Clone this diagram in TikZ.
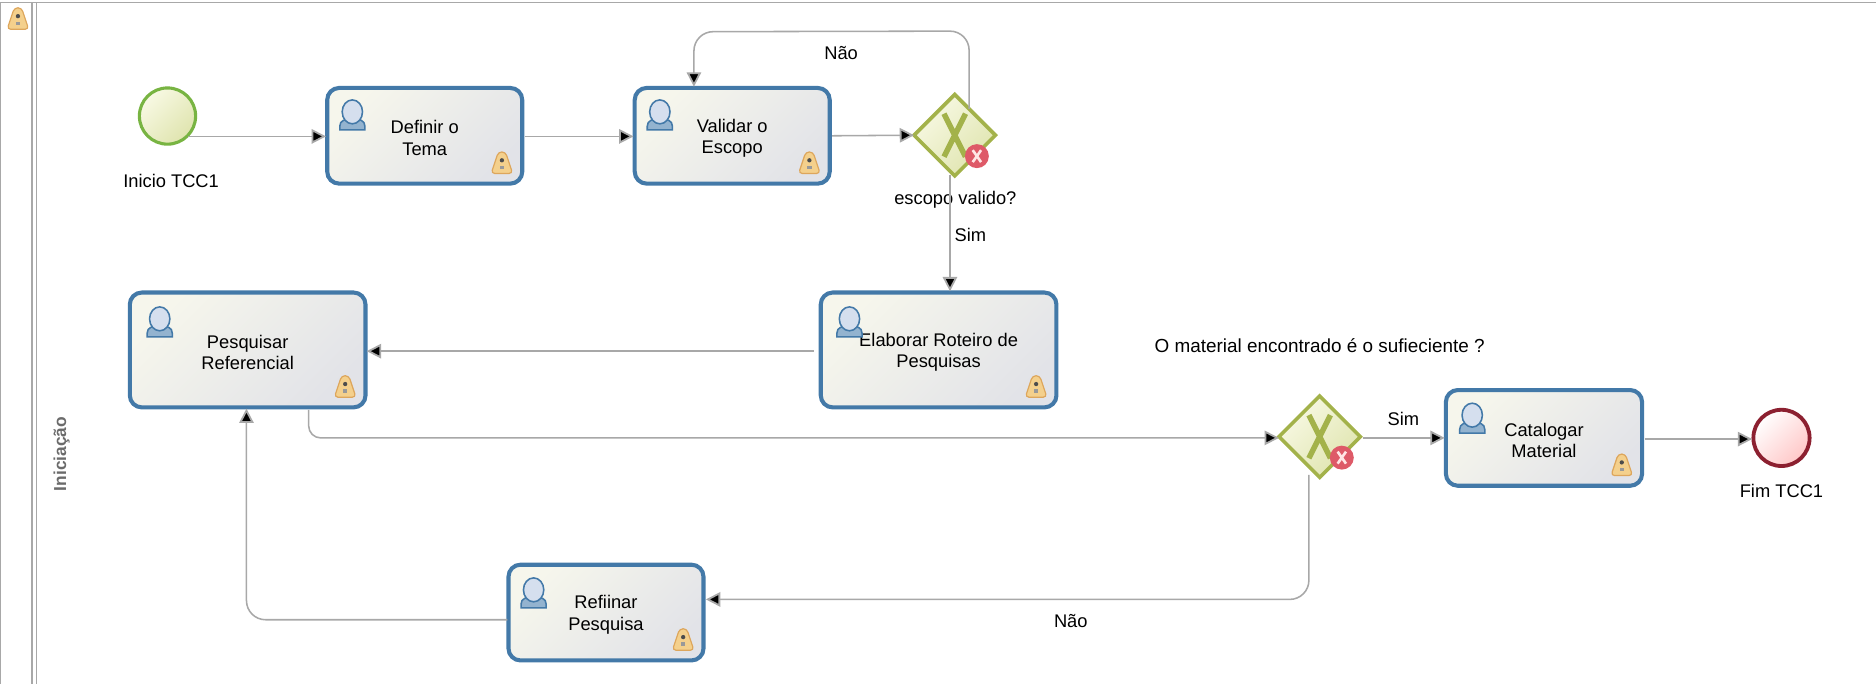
\documentclass[tikz,border=0pt]{standalone}
\usepackage{fontspec}
\setmainfont{Liberation Sans}
\usetikzlibrary{arrows.meta,calc,shapes.geometric}
\newcommand{\tskstrut}{\rule{0pt}{15pt}}
\definecolor{flowgray}{HTML}{A8A8A8}
\definecolor{taskblue}{HTML}{4379A8}
\definecolor{gwgreen}{HTML}{A3B24A}
\definecolor{startgreen}{HTML}{78B442}
\definecolor{endred}{HTML}{8C2030}
\definecolor{taskA}{HTML}{F6F6EC}
\definecolor{taskB}{HTML}{E2E3E8}
\definecolor{gwA}{HTML}{F8F9E4}
\definecolor{gwB}{HTML}{DFE4AE}
\definecolor{warnfill}{HTML}{F4D08C}
\definecolor{warnline}{HTML}{DDA65C}
\definecolor{userhead}{HTML}{D5DFEE}
\definecolor{userbody}{HTML}{93B3CF}
\definecolor{errfill}{HTML}{DE5A68}
\tikzset{
  x=1pt,y=-1pt,
  every node/.style={font=\fontsize{15.3}{18}\selectfont,text=black,inner sep=0pt,outer sep=0pt},
  taskbox/.style={draw=taskblue,line width=3.4pt,rounded corners=10pt,top color=taskA,bottom color=taskB,shading angle=45,minimum width=#1,align=center},
  gateway/.style={diamond,draw=gwgreen,line width=3pt,aspect=1,minimum width=68pt,minimum height=68pt,top color=gwA,bottom color=gwB,shading angle=45},
  startev/.style={circle,draw=startgreen,line width=2.6pt,minimum size=47pt,top color=gwA,bottom color=gwB,shading angle=45},
  endev/.style={circle,draw=endred,line width=3.2pt,minimum size=47pt,top color=white,bottom color=red!22!white,shading angle=45},
  flow/.style={draw=flowgray,line width=1.3pt,rounded corners=16pt,-{Triangle[fill=black,length=12pt,width=12pt,line width=1.5pt]}},
  lanebar/.style={draw=flowgray,line width=1.4pt},
  lbl/.style={align=center},
  pics/warn/.style={code={
    \fill[warnfill,draw=warnline,line width=1pt,line join=round,rounded corners=3pt] (-9,8.5) -- (-3,-9.5) -- (3,-9.5) -- (9,8.5) -- cycle;
    \fill[black!70] (0,-2.5) circle (1.8);
    \fill[black!40] (-1.8,2) rectangle (1.8,5);
  }},
  pics/usericon/.style={code={
    \fill[userbody,draw=taskblue,line width=1.3pt] (-10.5,15) -- (-10.5,12) .. controls (-10.5,7) and (-6,6) .. (0,6) .. controls (6,6) and (10.5,7) .. (10.5,12) -- (10.5,15) -- cycle;
    \fill[userhead,draw=taskblue,line width=1.3pt] (0,0) ellipse (8.5 and 10);
  }},
  pics/errmark/.style={code={
    \fill[errfill] (0,0) circle (10);
    \draw[white!90!red,line width=2.2pt] (-3.5,-5) -- (3.5,5) (3.5,-5) -- (-3.5,5);
  }},
  pics/xmark/.style={code={
    \draw[gwgreen,line width=4.6pt] (-9,-18) -- (9,18) (9,-18) -- (-9,18);
  }}
}
\begin{document}
\begin{tikzpicture}
\useasboundingbox (0,0) rectangle (1568,571.7);
% lane
\coordinate (laneTL) at (0,2);
\coordinate (laneTR) at (1568,2);
\draw[lanebar] (laneTR) -- (laneTL) -- (0,571.7);
\draw[lanebar] (27,2) -- (27,571.7);
\draw[lanebar] (30.5,2) -- (30.5,571.7);
\node[rotate=90,text=black!58,font=\fontsize{14.5}{16}\bfseries\selectfont] (lane) at (51.5,379.5) {Iniciação};
\pic at (15,16) {warn};
% events
\node[startev] (start) at (140,97) {};
\node[endev] (fim) at (1489,366) {};
\node[lbl] (startl) at (143,151) {Inicio TCC1};
\node[lbl] (fiml) at (1489,410) {Fim TCC1};
% tasks
\node[taskbox=163pt,minimum height=80pt] (def) at (355,113.5) {\tskstrut Definir o\\Tema};
\node[taskbox=163pt,minimum height=80pt] (val) at (612,113.5) {\tskstrut Validar o\\Escopo};
\node[taskbox=197pt,minimum height=96pt] (ela) at (784.5,292.5) {\tskstrut Elaborar Roteiro de\\Pesquisas};
\node[taskbox=197pt,minimum height=96pt] (pes) at (207,292.5) {\tskstrut Pesquisar\\Referencial};
\node[taskbox=164pt,minimum height=80pt] (cat) at (1290.5,366) {\tskstrut Catalogar\\Material};
\node[taskbox=163pt,minimum height=80pt] (ref) at (506.5,512) {\tskstrut Refiinar\\Pesquisa};
\foreach \t/\dx/\dy in {def/21/20,val/21/20,ela/24/22,pes/25/22,cat/22/21,ref/21/21}{
  \pic at ($(\t.north west)+(\dx,\dy)$) {usericon};
  \pic at ($(\t.south east)+(-17,-17)$) {warn};
}
% gateways
\node[gateway] (gwa) at (798,113) {};
\node[gateway] (gwb) at (1103,365) {};
\foreach \g in {gwa,gwb}{
  \pic at (\g) {xmark};
  \pic at ($(\g)+(18.5,17.5)$) {errmark};
}
% labels
\node[lbl] (gwal) at (798.5,167) {escopo valido?};
\node[lbl,font=\fontsize{15.8}{18}\selectfont] (gwbl) at (1103,289) {O material encontrado é o sufieciente ?};
\node[lbl] (simA) at (811,196) {Sim};
\node[lbl] (naoA) at (703,44) {Não};
\node[lbl] (simB) at (1173,350) {Sim};
\node[lbl] (naoB) at (895,519) {Não};
% flows
\draw[flow] ($(start.center)+(17,17)$) -- ($(def.west)+(-1,0.5)$);
\draw[flow] ($(def.east)+(2,0.5)$) -- ($(val.west)+(-1,0.5)$);
\draw[flow] ($(val.east)+(2,0)$) -- ($(gwa.west)+(0,0)$);
\draw[flow] ($(gwa.north)+(12,12)$) -- ($(gwa.north)+(12,-53)$) -- ($(val.north)+(-32,-47)$) -- ($(val.north)+(-32,-1)$);
\draw[flow] ($(gwa.south)+(-4,-1)$) -- ($(ela.north)+(9.5,-1)$);
\draw[flow] ($(ela.west)+(-6,1)$) -- ($(pes.east)+(1,1)$);
\draw[flow,rounded corners=10pt] ($(pes.south)+(51,2)$) |- ($(gwb.west)+(0,1)$);
\draw[flow] ($(gwb.east)+(2,1)$) -- ($(cat.west)+(-1,0)$);
\draw[flow] ($(cat.east)+(2,1)$) -- ($(fim.west)+(-1,1)$);
\draw[flow] ($(gwb.south)+(-9,-2)$) |- ($(ref.east)+(2,-11)$);
\draw[flow] ($(ref.west)+(-1,6)$) -| ($(pes.south)+(-1,1)$);
\end{tikzpicture}
\end{document}
